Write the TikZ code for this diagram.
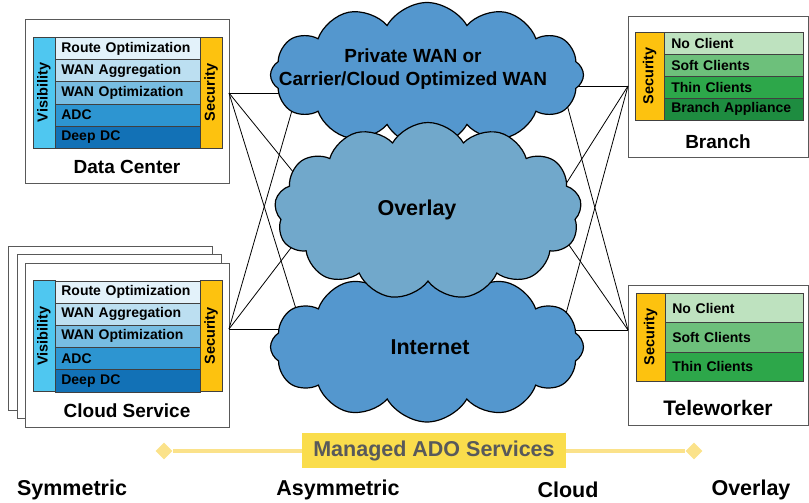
\documentclass[tikz,border=0pt]{standalone}
\usepackage{fontspec}
\setmainfont{Liberation Sans}
\usetikzlibrary{shapes.geometric,shapes.symbols}

\definecolor{vis}{HTML}{4FC7F0}
\definecolor{sec}{HTML}{FDC20F}
\definecolor{blueA}{HTML}{E3F2FA}
\definecolor{blueB}{HTML}{BCDFF1}
\definecolor{blueC}{HTML}{78BDE2}
\definecolor{blueD}{HTML}{2D95D1}
\definecolor{blueE}{HTML}{1271B6}
\definecolor{greenA}{HTML}{BEE2BF}
\definecolor{greenB}{HTML}{6DC07B}
\definecolor{greenC}{HTML}{2DA74A}
\definecolor{greenD}{HTML}{1E8C40}
\definecolor{wanblue}{HTML}{5497CE}
\definecolor{ovlblue}{HTML}{71A8CB}
\definecolor{ado}{HTML}{FADD4C}
\definecolor{adoline}{HTML}{FBE28A}
\definecolor{adotext}{HTML}{58595B}

\begin{document}
\begin{tikzpicture}[x=1pt, y=-1pt, font=\bfseries,
    site/.style={draw=black!65, line width=1pt, fill=white, anchor=north west},
    row/.style={draw=black!75, line width=0.7pt, anchor=north west, inner xsep=6pt, inner ysep=0pt,
      align=left, font=\bfseries\fontsize{14}{16}\selectfont},
    side/.style={draw=black!75, line width=0.7pt, rotate=90, inner sep=0pt,
      font=\bfseries\fontsize{14.5}{16}\selectfont},
    sitename/.style={font=\bfseries\fontsize{19}{22}\selectfont},
    wan/.style={cloud, cloud puffs=12, cloud puff arc=120, aspect=2.2, draw=black, line width=1.2pt, inner sep=0pt},
    cloudtext/.style={align=center, font=\bfseries\fontsize{19}{23}\selectfont},
    ovltext/.style={font=\bfseries\fontsize{21.5}{24}\selectfont},
    link/.style={line width=0.8pt},
    scalename/.style={font=\bfseries\fontsize{21.5}{24}\selectfont}]
  \useasboundingbox (0,0) rectangle (809,503);

  % cloud service copies behind
  \node[site, minimum width=204, minimum height=164] (cs-back1) at (8,245.5) {};
  \node[site, minimum width=204, minimum height=164] (cs-back2) at (16.5,254) {};

  % data center and cloud service
  \foreach \s/\dy/\title in {dc/0/Data Center, cs/243.5/Cloud Service} {
    \begin{scope}[yshift=-\dy pt]
      \node[site, minimum width=204, minimum height=164] (\s) at (25,19) {};
      \node[side, fill=vis, minimum width=111, minimum height=22] (\s-vis) at (44,92.5) {Visibility};
      \foreach \txt/\col [count=\i] in {Route Optimization/blueA, WAN Aggregation/blueB,
          WAN Optimization/blueC, ADC/blueD, Deep DC/blueE}
        \node[row, fill=\col, text width=133pt, minimum height=22.2] (\s-row\i) at (55,{37+22.2*(\i-1)}) {\mbox{\txt}};
      \node[side, fill=sec, minimum width=111, minimum height=22] (\s-sec) at (211,92.5) {Security};
      \node[sitename] (\s-name) at (127,167) {\title};
    \end{scope}
  }

  % branch
  \node[site, minimum width=180, minimum height=141] (br) at (628,16) {};
  \node[side, fill=sec, minimum width=88, minimum height=29] (br-sec) at (649.5,76) {Security};
  \foreach \txt/\col [count=\i] in {No Client/greenA, Soft Clients/greenB, Thin Clients/greenC, Branch Appliance/greenD}
    \node[row, fill=\col, text width=125pt, inner xsep=7pt, minimum height=22] (br-row\i) at (664,{32+22*(\i-1)}) {\mbox{\txt}};
  \node[sitename] (br-name) at (718,142) {Branch};

  % teleworker
  \node[site, minimum width=180, minimum height=140] (tw) at (628,285) {};
  \node[side, fill=sec, minimum width=88, minimum height=29] (tw-sec) at (650.5,337) {Security};
  \foreach \txt/\col [count=\i] in {No Client/greenA, Soft Clients/greenB, Thin Clients/greenC}
    \node[row, fill=\col, text width=124pt, inner xsep=7pt, minimum height=29.3] (tw-row\i) at (665,{293+29.3*(\i-1)}) {\mbox{\txt}};
  \node[sitename, font=\bfseries\fontsize{21}{24}\selectfont] (tw-name) at (718,408) {Teleworker};

  % ports and link ends
  \coordinate (dc-port) at (229,93);
  \coordinate (cs-port) at (229,329);
  \coordinate (br-port) at (628,86);
  \coordinate (tw-port) at (628,330);
  \coordinate (dc-wan) at (300,93);
  \coordinate (dc-ovl) at (320,205);
  \coordinate (dc-net) at (310,354);
  \coordinate (cs-wan) at (295,100);
  \coordinate (cs-ovl) at (310,223);
  \coordinate (cs-net) at (310,329);
  \coordinate (br-wan) at (560,86);
  \coordinate (br-ovl) at (545,217);
  \coordinate (br-net) at (561,332);
  \coordinate (tw-wan) at (559,75);
  \coordinate (tw-ovl) at (553,222);
  \coordinate (tw-net) at (560,330);
  \foreach \s in {dc,cs,br,tw}
    \foreach \t in {wan,ovl,net}
      \draw[link] (\s-port) -- (\s-\t);

  % clouds
  \node[wan, fill=wanblue, minimum width=313, minimum height=145] (pwan) at (427,75) {};
  \node[wan, fill=wanblue, minimum width=313, minimum height=150] (inet) at (427,347) {};
  \node[wan, fill=ovlblue, cloud puffs=13, minimum width=307, minimum height=177] (ovl) at (428,211) {};
  \node[cloudtext] (pwan-text) at (413,69) {Private WAN or\\Carrier/Cloud Optimized WAN};
  \node[ovltext] (ovl-text) at (417,210) {Overlay};
  \node[ovltext] (inet-text) at (430,347) {Internet};

  % managed ADO services
  \node[diamond, fill=adoline, minimum size=17, inner sep=0pt] (ado-l) at (164,451) {};
  \node[diamond, fill=adoline, minimum size=17, inner sep=0pt] (ado-r) at (694,451) {};
  \draw[adoline, line width=3.5pt] (ado-l) -- (ado-r);
  \node[fill=ado, minimum width=264, minimum height=35, text=adotext,
    font=\bfseries\fontsize{21.5}{24}\selectfont] (ado) at (434,450.5) {Managed ADO Services};

  \node[scalename] (sym) at (72,490) {Symmetric};
  \node[scalename] (asym) at (338,490) {Asymmetric};
  \node[scalename] (cld) at (568,490) {Cloud};
  \node[scalename] (ovly) at (751,490) {Overlay};
\end{tikzpicture}
\end{document}
